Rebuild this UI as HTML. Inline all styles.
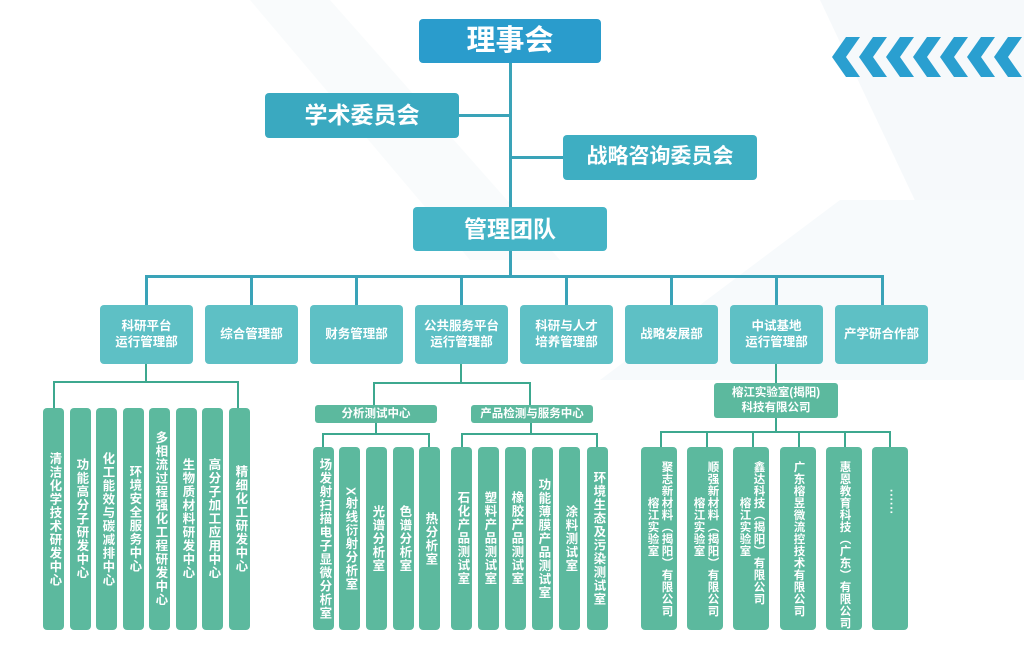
<!DOCTYPE html>
<html><head><meta charset="utf-8"><style>
body{margin:0;width:1024px;height:648px;overflow:hidden;background:#fff;position:relative;font-family:"Liberation Sans","Noto Sans CJK SC",sans-serif;font-weight:bold;color:#fff}
.b{position:absolute;display:flex;align-items:center;justify-content:center;text-align:center;border-radius:4px;line-height:1.25}
.l{position:absolute;background:#3aa3b8}
.g{background:#3da88f}
.c{position:absolute;background:#5cb99e;border-radius:4px;top:408px;height:222px;width:21px;writing-mode:vertical-rl;font-size:12.5px;display:flex;justify-content:center;align-items:center;line-height:1.1;letter-spacing:1px}
.r{position:absolute;background:#5cb99e;border-radius:4px;top:447px;height:183px;width:36px;font-size:11.5px}
.r span{position:absolute;writing-mode:vertical-rl;line-height:1;letter-spacing:0.5px;white-space:nowrap}
.d{background:#5ec0c5;top:305px;width:93px;height:59px;font-size:12.5px}
</style></head><body>
<svg style="position:absolute;left:0;top:0" width="1024" height="648">
<polygon points="820,0 1024,0 1024,320 1000,380" fill="#f6f9fb"/>
<polygon points="250,0 330,0 560,260 470,260" fill="#f9fbfc"/>
<polygon points="600,380 840,200 1024,200 1024,380" fill="#f7fafc"/>
<g fill="#2a9fd0">
<polygon points="846,37 860,37 846,57 860,77 846,77 832,57"/>
<polygon points="873,37 887,37 873,57 887,77 873,77 859,57"/>
<polygon points="900,37 914,37 900,57 914,77 900,77 886,57"/>
<polygon points="927,37 941,37 927,57 941,77 927,77 913,57"/>
<polygon points="954,37 968,37 954,57 968,77 954,77 940,57"/>
<polygon points="981,37 995,37 981,57 995,77 981,77 967,57"/>
<polygon points="1008,37 1022,37 1008,57 1022,77 1008,77 994,57"/>
</g></svg>

<div class="l" style="left:509px;top:63px;width:3px;height:144px"></div>
<div class="l" style="left:459px;top:114px;width:52px;height:3px"></div>
<div class="l" style="left:510px;top:156px;width:53px;height:3px"></div>
<div class="l" style="left:509px;top:251px;width:3px;height:25px"></div>
<div class="l" style="left:145px;top:275px;width:739px;height:3px"></div>
<div class="l" style="left:145px;top:275px;width:3px;height:30px"></div>
<div class="l" style="left:250px;top:275px;width:3px;height:30px"></div>
<div class="l" style="left:355px;top:275px;width:3px;height:30px"></div>
<div class="l" style="left:460px;top:275px;width:3px;height:30px"></div>
<div class="l" style="left:565px;top:275px;width:3px;height:30px"></div>
<div class="l" style="left:670px;top:275px;width:3px;height:30px"></div>
<div class="l" style="left:775px;top:275px;width:3px;height:30px"></div>
<div class="l" style="left:881px;top:275px;width:3px;height:30px"></div>

<div class="b" style="left:419px;top:19px;width:182px;height:44px;background:#2a9ccc;font-size:29px">理事会</div>
<div class="b" style="left:265px;top:93px;width:194px;height:45px;background:#3aa9c0;font-size:23px">学术委员会</div>
<div class="b" style="left:563px;top:135px;width:194px;height:45px;background:#3eaec2;font-size:21px">战略咨询委员会</div>
<div class="b" style="left:413px;top:207px;width:194px;height:44px;background:#45b4c6;font-size:23px">管理团队</div>

<div class="b d" style="left:100px">科研平台<br>运行管理部</div>
<div class="b d" style="left:205px">综合管理部</div>
<div class="b d" style="left:310px">财务管理部</div>
<div class="b d" style="left:415px">公共服务平台<br>运行管理部</div>
<div class="b d" style="left:520px">科研与人才<br>培养管理部</div>
<div class="b d" style="left:625px">战略发展部</div>
<div class="b d" style="left:730px">中试基地<br>运行管理部</div>
<div class="b d" style="left:835px">产学研合作部</div>

<div class="l g" style="left:145px;top:364px;width:2px;height:19px"></div>
<div class="l g" style="left:53px;top:381px;width:186px;height:2px"></div>
<div class="l g" style="left:53px;top:381px;width:2px;height:27px"></div>
<div class="l g" style="left:237px;top:381px;width:2px;height:27px"></div>
<div class="c" style="left:43px">清洁化学技术研发中心</div>
<div class="c" style="left:70px">功能高分子研发中心</div>
<div class="c" style="left:96px">化工能效与碳减排中心</div>
<div class="c" style="left:123px">环境安全服务中心</div>
<div class="c" style="left:149px">多相流过程强化工程研发中心</div>
<div class="c" style="left:176px">生物质材料研发中心</div>
<div class="c" style="left:202px">高分子加工应用中心</div>
<div class="c" style="left:229px">精细化工研发中心</div>

<div class="l g" style="left:460px;top:364px;width:2px;height:19px"></div>
<div class="l g" style="left:373px;top:382px;width:158px;height:2px"></div>
<div class="l g" style="left:373px;top:382px;width:2px;height:23px"></div>
<div class="l g" style="left:529px;top:382px;width:2px;height:23px"></div>
<div class="b" style="left:315px;top:405px;width:122px;height:18px;background:#5cb99e;font-size:11.5px;border-radius:3px">分析测试中心</div>
<div class="b" style="left:471px;top:405px;width:122px;height:18px;background:#5cb99e;font-size:11.5px;border-radius:3px">产品检测与服务中心</div>
<div class="l g" style="left:375px;top:423px;width:2px;height:11px"></div>
<div class="l g" style="left:530px;top:423px;width:2px;height:11px"></div>
<div class="l g" style="left:322px;top:433px;width:108px;height:2px"></div>
<div class="l g" style="left:322px;top:433px;width:2px;height:14px"></div>
<div class="l g" style="left:428px;top:433px;width:2px;height:14px"></div>
<div class="l g" style="left:461px;top:433px;width:137px;height:2px"></div>
<div class="l g" style="left:461px;top:433px;width:2px;height:14px"></div>
<div class="l g" style="left:596px;top:433px;width:2px;height:14px"></div>
<div class="c" style="left:313px;top:447px;height:183px">场发射扫描电子显微分析室</div>
<div class="c" style="left:339px;top:447px;height:183px">X射线衍射分析室</div>
<div class="c" style="left:366px;top:447px;height:183px">光谱分析室</div>
<div class="c" style="left:393px;top:447px;height:183px">色谱分析室</div>
<div class="c" style="left:419px;top:447px;height:183px">热分析室</div>
<div class="c" style="left:451px;top:447px;height:183px">石化产品测试室</div>
<div class="c" style="left:478px;top:447px;height:183px">塑料产品测试室</div>
<div class="c" style="left:505px;top:447px;height:183px">橡胶产品测试室</div>
<div class="c" style="left:532px;top:447px;height:183px">功能薄膜产品测试室</div>
<div class="c" style="left:559px;top:447px;height:183px">涂料测试室</div>
<div class="c" style="left:587px;top:447px;height:183px">环境生态及污染测试室</div>

<div class="l g" style="left:775px;top:364px;width:2px;height:19px"></div>
<div class="b" style="left:714px;top:383px;width:124px;height:35px;background:#5cb99e;font-size:11.5px;border-radius:3px">榕江实验室(揭阳)<br>科技有限公司</div>
<div class="l g" style="left:775px;top:418px;width:2px;height:14px"></div>
<div class="l g" style="left:660px;top:431px;width:231px;height:2px"></div>
<div class="l g" style="left:660px;top:431px;width:2px;height:16px"></div>
<div class="l g" style="left:706px;top:431px;width:2px;height:16px"></div>
<div class="l g" style="left:752px;top:431px;width:2px;height:16px"></div>
<div class="l g" style="left:798px;top:431px;width:2px;height:16px"></div>
<div class="l g" style="left:844px;top:431px;width:2px;height:16px"></div>
<div class="l g" style="left:889px;top:431px;width:2px;height:16px"></div>
<div class="r" style="left:641px"><span style="left:19px;top:14px">聚志新材料（揭阳）有限公司</span><span style="left:5px;top:50px">榕江实验室</span></div>
<div class="r" style="left:687px"><span style="left:19px;top:14px">顺强新材料（揭阳）有限公司</span><span style="left:5px;top:50px">榕江实验室</span></div>
<div class="r" style="left:733px"><span style="left:19px;top:14px">鑫达科技（揭阳）有限公司</span><span style="left:5px;top:50px">榕江实验室</span></div>
<div class="r" style="left:780px"><span style="left:12px;top:14px">广东榕昱微流控技术有限公司</span></div>
<div class="r" style="left:826px"><span style="left:12px;top:14px">惠恩教育科技（广东）有限公司</span></div>
<div class="r" style="left:872px"><span style="left:12px;top:42px">······</span></div>
</body></html>
